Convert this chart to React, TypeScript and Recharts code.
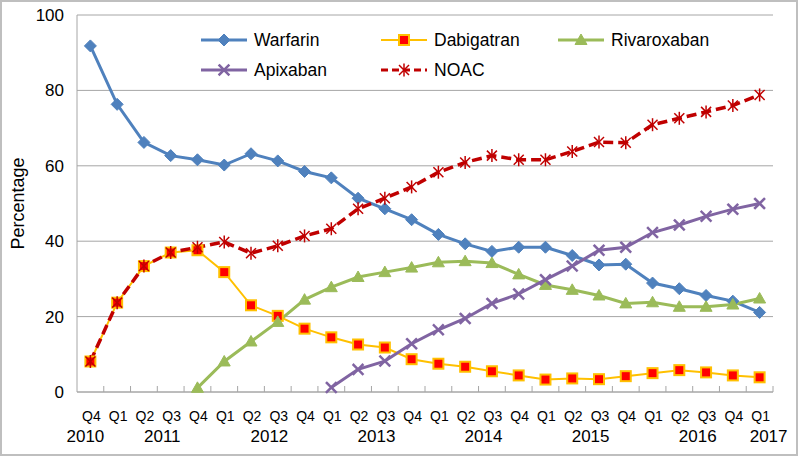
import React from 'react';
import { LineChart, Line, XAxis, YAxis, CartesianGrid } from 'recharts';

const quarters = ['Q4', 'Q1', 'Q2', 'Q3', 'Q4', 'Q1', 'Q2', 'Q3', 'Q4', 'Q1', 'Q2', 'Q3', 'Q4', 'Q1', 'Q2', 'Q3', 'Q4', 'Q1', 'Q2', 'Q3', 'Q4', 'Q1', 'Q2', 'Q3', 'Q4', 'Q1'];
const years = ['2010', '2011', '2011', '2011', '2011', '2012', '2012', '2012', '2012', '2013', '2013', '2013', '2013', '2014', '2014', '2014', '2014', '2015', '2015', '2015', '2015', '2016', '2016', '2016', '2016', '2017'];

const warfarin = [91.8, 76.3, 66.2, 62.7, 61.6, 60.2, 63.2, 61.3, 58.5, 56.8, 51.4, 48.6, 45.7, 41.8, 39.3, 37.3, 38.4, 38.4, 36.2, 33.7, 33.9, 28.9, 27.4, 25.6, 24.1, 21.1];
const dabigatran = [8.1, 23.7, 33.4, 37.0, 37.6, 31.8, 23.0, 20.2, 16.8, 14.5, 12.6, 11.8, 8.7, 7.5, 6.7, 5.5, 4.4, 3.3, 3.6, 3.4, 4.2, 5.0, 5.8, 5.2, 4.4, 3.9];
const rivaroxaban = [null, null, null, null, 1.1, 8.1, 13.4, 18.6, 24.5, 27.8, 30.5, 31.8, 33.0, 34.4, 34.7, 34.2, 31.2, 28.4, 27.1, 25.6, 23.5, 23.8, 22.6, 22.6, 23.2, 24.8];
const apixaban = [null, null, null, null, null, null, null, null, null, 1.2, 6.0, 8.2, 12.8, 16.5, 19.5, 23.5, 26.0, 29.8, 33.4, 37.6, 38.4, 42.3, 44.3, 46.6, 48.5, 50.0];
const noac = [8.1, 23.7, 33.4, 37.0, 38.4, 39.8, 36.8, 38.8, 41.4, 43.3, 48.6, 51.4, 54.4, 58.3, 60.9, 62.7, 61.6, 61.6, 63.8, 66.3, 66.1, 70.9, 72.6, 74.3, 76.0, 78.8];
const yTicks = [0, 20, 40, 60, 80, 100];

const data = quarters.map((q, i) => ({
  q,
  year: years[i],
  Warfarin: warfarin[i],
  Dabigatran: dabigatran[i],
  Rivaroxaban: rivaroxaban[i],
  Apixaban: apixaban[i],
  NOAC: noac[i],
}));

const W = 800;
const H = 457;
const MARGIN = { top: 15, right: 27, bottom: 15, left: 17 };
const YAXIS_W = 60;
const PLOT_W = W - MARGIN.left - MARGIN.right - YAXIS_W;
const BAND = PLOT_W / quarters.length;
const GRID = '#a6a6a6';

const C = {
  warfarin: '#4F81BD',
  dabLine: '#FFC000',
  dabFill: '#FF0000',
  riva: '#9BBB59',
  apix: '#8064A2',
  noac: '#C00000',
};

type M = { cx: number; cy: number };
const Diamond = ({ cx, cy }: M) => (
  <polygon points={`${cx},${cy - 6} ${cx + 6},${cy} ${cx},${cy + 6} ${cx - 6},${cy}`} fill={C.warfarin} stroke={C.warfarin} strokeWidth={1} />
);
const Square = ({ cx, cy }: M) => (
  <rect x={cx - 5} y={cy - 5} width={10} height={10} fill={C.dabFill} stroke={C.dabLine} strokeWidth={2} />
);
const Triangle = ({ cx, cy }: M) => (
  <polygon points={`${cx},${cy - 6} ${cx + 6},${cy + 4.5} ${cx - 6},${cy + 4.5}`} fill={C.riva} stroke={C.riva} strokeWidth={1} />
);
const Cross = ({ cx, cy }: M) => (
  <g stroke={C.apix} strokeWidth={2.5} strokeLinecap="square">
    <line x1={cx - 4.5} y1={cy - 4.5} x2={cx + 4.5} y2={cy + 4.5} />
    <line x1={cx - 4.5} y1={cy + 4.5} x2={cx + 4.5} y2={cy - 4.5} />
  </g>
);
const Star = ({ cx, cy }: M) => (
  <g stroke={C.noac} strokeWidth={1.5}>
    <line x1={cx - 5} y1={cy - 5} x2={cx + 5} y2={cy + 5} />
    <line x1={cx - 5} y1={cy + 5} x2={cx + 5} y2={cy - 5} />
    <line x1={cx} y1={cy - 6.5} x2={cx} y2={cy + 6.5} />
  </g>
);

const makeDot = (Comp: (p: M) => React.ReactElement) => (p: any) => {
  if (p.value == null || p.cy == null || isNaN(p.cy)) return <g key={`e${p.index}`} />;
  return (
    <g key={`d${p.index}`}>
      <Comp cx={p.cx} cy={p.cy} />
    </g>
  );
};

const QuarterTick = (props: any) => {
  const { x, y, payload } = props;
  const i = payload.index;
  const yr = years[i];
  const first = years.indexOf(yr);
  const last = years.lastIndexOf(yr);
  let yearEl = null;
  if (first === last) {
    const dx = i === 0 ? -5 : 9;
    yearEl = (
      <text x={x + dx} y={y + 50} textAnchor="middle" fontSize={17} fill="#000">{yr}</text>
    );
  } else if (i === Math.floor((first + last) / 2)) {
    yearEl = (
      <text x={x + BAND / 2 + 5} y={y + 50} textAnchor="middle" fontSize={17} fill="#000">{yr}</text>
    );
  }
  return (
    <g>
      <line x1={x + BAND / 2} x2={x + BAND / 2} y1={y} y2={y - 6} stroke={GRID} strokeWidth={1} />
      <text x={x + 1} y={y + 29} textAnchor="middle" fontSize={14} fill="#000">{quarters[i]}</text>
      {yearEl}
    </g>
  );
};

const legendItems = [
  { name: 'Warfarin', color: C.warfarin, marker: Diamond, dash: undefined as string | undefined, width: 3, left: 200, top: 0 },
  { name: 'Dabigatran', color: C.dabLine, marker: Square, dash: undefined, width: 2, left: 380, top: 0 },
  { name: 'Rivaroxaban', color: C.riva, marker: Triangle, dash: undefined, width: 3, left: 557, top: 0 },
  { name: 'Apixaban', color: C.apix, marker: Cross, dash: undefined, width: 3, left: 200, top: 30 },
  { name: 'NOAC', color: C.noac, marker: Star, dash: '7 4', width: 3, left: 380, top: 30 },
];

const LegendBox = () => (
  <div style={{ position: 'absolute', left: 0, top: 30, width: W, height: 60, pointerEvents: 'none' }}>
    {legendItems.map((it) => {
      const Mk = it.marker;
      return (
        <div key={it.name} style={{ position: 'absolute', left: it.left, top: it.top, height: 20, display: 'flex', alignItems: 'center' }}>
          <svg width={48} height={20} style={{ display: 'block' }}>
            <line x1={1} x2={47} y1={10} y2={10} stroke={it.color} strokeWidth={it.width} strokeDasharray={it.dash} />
            <Mk cx={24} cy={10} />
          </svg>
          <span style={{ marginLeft: 6, fontSize: 17.5, lineHeight: '20px', color: '#000' }}>{it.name}</span>
        </div>
      );
    })}
  </div>
);

export default function App() {
  return (
    <div style={{ position: 'relative', width: W, height: H, fontFamily: '"Liberation Sans", Arial, sans-serif', background: '#fff' }}>
      <style>{`body{margin:0;}`}</style>
      <LineChart width={W} height={H} data={data} margin={MARGIN}>
        <CartesianGrid vertical={false} stroke={GRID} strokeWidth={1} />
        <XAxis
          dataKey="q"
          interval={0}
          height={50}
          padding={{ left: BAND / 2, right: BAND / 2 }}
          tickLine={false}
          tickSize={0}
          tickMargin={0}
          axisLine={{ stroke: GRID, strokeWidth: 1 }}
          tick={<QuarterTick />}
        />
        <YAxis
          width={YAXIS_W}
          domain={[0, 100]}
          ticks={yTicks}
          interval={0}
          tickLine={false}
          tickSize={0}
          tickMargin={13}
          axisLine={{ stroke: GRID, strokeWidth: 1 }}
          tick={{ fill: '#000', fontSize: 17 }}
          label={{ value: 'Percentage', angle: -90, position: 'insideLeft', offset: 1, style: { textAnchor: 'middle', fontSize: 18, fill: '#000' } }}
        />
        <Line dataKey="Warfarin" stroke={C.warfarin} strokeWidth={3} dot={makeDot(Diamond)} activeDot={false} isAnimationActive={false} />
        <Line dataKey="Dabigatran" stroke={C.dabLine} strokeWidth={2} dot={makeDot(Square)} activeDot={false} isAnimationActive={false} />
        <Line dataKey="Rivaroxaban" stroke={C.riva} strokeWidth={3} dot={makeDot(Triangle)} activeDot={false} isAnimationActive={false} />
        <Line dataKey="Apixaban" stroke={C.apix} strokeWidth={3} dot={makeDot(Cross)} activeDot={false} isAnimationActive={false} />
        <Line dataKey="NOAC" stroke={C.noac} strokeWidth={3.5} strokeDasharray="10 5" dot={makeDot(Star)} activeDot={false} isAnimationActive={false} />
      </LineChart>
      <LegendBox />
      <div style={{ position: 'absolute', left: 0, top: 0, width: 798, height: 456, border: '2px solid #bfbfbf', boxSizing: 'border-box', pointerEvents: 'none' }} />
    </div>
  );
}
